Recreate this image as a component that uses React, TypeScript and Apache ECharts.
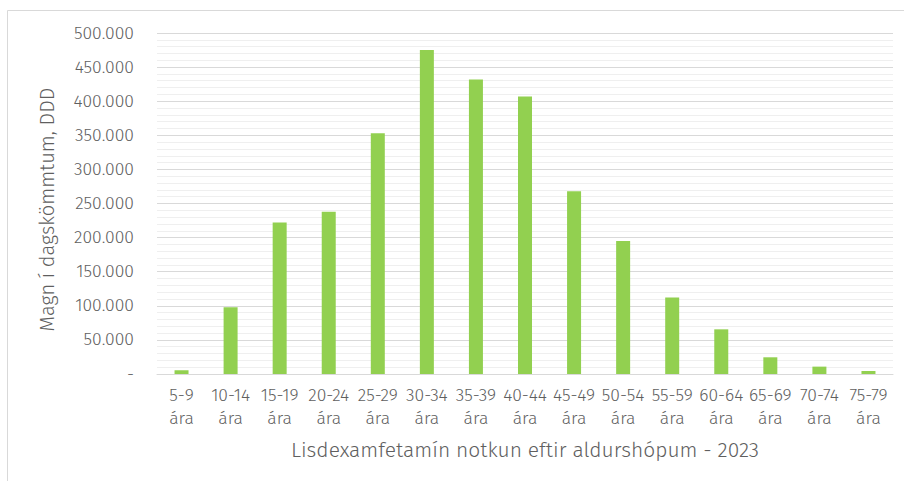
import React, { useEffect, useRef } from "react";
import * as echarts from "echarts";

const categories = [
  "5-9\nára", "10-14\nára", "15-19\nára", "20-24\nára", "25-29\nára",
  "30-34\nára", "35-39\nára", "40-44\nára", "45-49\nára", "50-54\nára",
  "55-59\nára", "60-64\nára", "65-69\nára", "70-74\nára", "75-79\nára",
];
const ddd = [
  5500, 98000, 222000, 238000, 353000,
  475000, 432000, 407000, 268000, 195000,
  112000, 65500, 24500, 10800, 4400,
];
const yAxisTitle = "Magn í dagskömmtum, DDD";
const xAxisTitle = "Lisdexamfetamín notkun eftir aldurshópum - 2023";

const FONT = "'Fira Sans', 'Open Sans', sans-serif";
const TEXT = "#5f5f5f";

function fmt(v: number): string {
  if (v === 0) return "-";
  return String(Math.round(v)).replace(/\B(?=(\d{3})+(?!\d))/g, ".");
}

export default function App() {
  const ref = useRef<HTMLDivElement>(null);
  useEffect(() => {
    if (!ref.current) return;
    const chart = echarts.init(ref.current, undefined, { renderer: "svg" });
    chart.setOption({
      animation: false,
      backgroundColor: "#ffffff",
      textStyle: { fontFamily: FONT },
      graphic: [
        {
          type: "rect",
          shape: { x: 7.5, y: 10.5, width: 1000, height: 1000 },
          style: { fill: "none", stroke: "#d9d9d9", lineWidth: 1 },
          silent: true,
          z: -1,
        },
      ],
      grid: { left: 157, right: 11, top: 33, bottom: 107, containLabel: false },
      xAxis: {
        type: "category",
        data: categories,
        axisLine: { lineStyle: { color: "#d9d9d9", width: 1 } },
        axisTick: { show: false },
        axisLabel: {
          color: TEXT,
          fontSize: 17.5,
          fontWeight: 300,
          lineHeight: 23,
          margin: 10,
          interval: 0,
          fontFamily: FONT,
        },
        name: xAxisTitle,
        nameLocation: "middle",
        nameGap: 65,
        nameTextStyle: { color: TEXT, fontSize: 21, fontWeight: 300, fontFamily: FONT },
      },
      yAxis: {
        type: "value",
        min: 0,
        max: 500000,
        interval: 50000,
        axisLine: { show: false },
        axisTick: { show: false },
        axisLabel: {
          color: TEXT,
          fontSize: 17.5,
          fontWeight: 300,
          margin: 23,
          formatter: fmt,
          fontFamily: FONT,
        },
        splitLine: { show: true, lineStyle: { color: "#d9d9d9", width: 1 } },
        minorTick: { show: false, splitNumber: 5 },
        minorSplitLine: { show: true, lineStyle: { color: "#efefef", width: 1 } },
        name: yAxisTitle,
        nameLocation: "middle",
        nameRotate: 90,
        nameGap: 100,
        nameTextStyle: {
          color: TEXT,
          fontSize: 20,
          fontWeight: 300,
          fontFamily: FONT,
          padding: [0, 12, 0, 0],
        },
      },
      series: [
        {
          type: "bar",
          data: ddd,
          barWidth: 14,
          itemStyle: { color: "#92d050" },
        },
      ],
    });
    return () => chart.dispose();
  }, []);
  return (
    <div
      ref={ref}
      style={{ position: "fixed", left: 0, top: 0, width: 904, height: 481 }}
    />
  );
}
